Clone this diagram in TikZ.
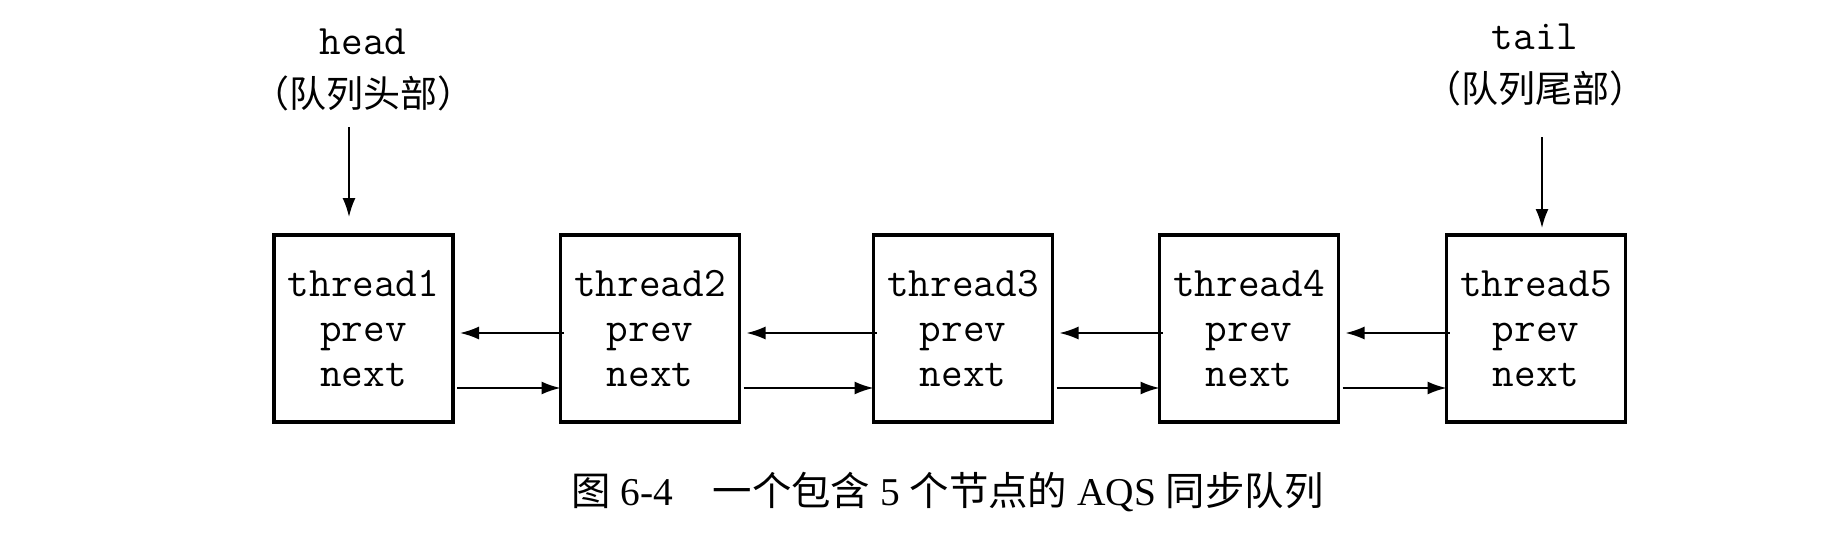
\documentclass[tikz,border=0pt]{standalone}
\usepackage{fontspec}
\setmainfont{Liberation Serif}
\newfontfamily\cjk{Noto Sans CJK SC}
\usetikzlibrary{positioning, calc, arrows.meta}

\begin{document}
\begin{tikzpicture}[x=0.5pt,y=-0.5pt,thread/.style={draw, line width=1.7pt, outer sep=0pt, inner sep=0pt, minimum width=89.5pt, minimum height=93.5pt, align=center, font=\ttfamily\fontsize{21}{22.5}\selectfont},ptr/.style={-{Latex[length=9.5pt,width=6.5pt]}, line width=0.9pt},lbl/.style={font=\ttfamily\fontsize{21}{21}\selectfont, anchor=base},cnlbl/.style={font=\cjk\fontsize{18.5}{18.5}\selectfont}]
\useasboundingbox (0,0) rectangle (1840,556);
\foreach \i/\x in {1/363.5, 2/650, 3/963, 4/1249, 5/1536}
	\node[thread] (t\i) at (\x, 328.5) {thread\i\\prev\\next};
\foreach \i [evaluate=\i as \j using int(\i+1)] in {1, 2, 3, 4} {
	\draw[ptr] ($(t\j.west)+(3,4.5)$) -- ($(t\i.east)+(7,4.5)$);
	\draw[ptr] ($(t\i.east)+(4,59.5)$) -- ($(t\j.west)+(0,59.5)$);
}
\node[lbl] (headname) at (363, 55) {head}; \node[cnlbl] (headcn) at (363, 93) {（队列头部）};
\node[lbl] (tailname) at (1535, 50) {tail}; \node[cnlbl] (tailcn) at (1535, 88) {（队列尾部）};
\coordinate (hs) at (349, 127); \coordinate (ts) at (1542, 137);
\draw[ptr] (hs) -- ($(hs |- t1.north)+(0,-18)$); \draw[ptr] (ts) -- ($(ts |- t5.north)+(0,-7)$);
\node[font=\fontsize{19.7}{19.7}\selectfont] (caption) at (947.5, 492) {{\cjk 图} 6-4\hspace{1em}{\cjk 一个包含} 5 {\cjk 个节点的} AQS {\cjk 同步队列}};
\end{tikzpicture}
\end{document}
